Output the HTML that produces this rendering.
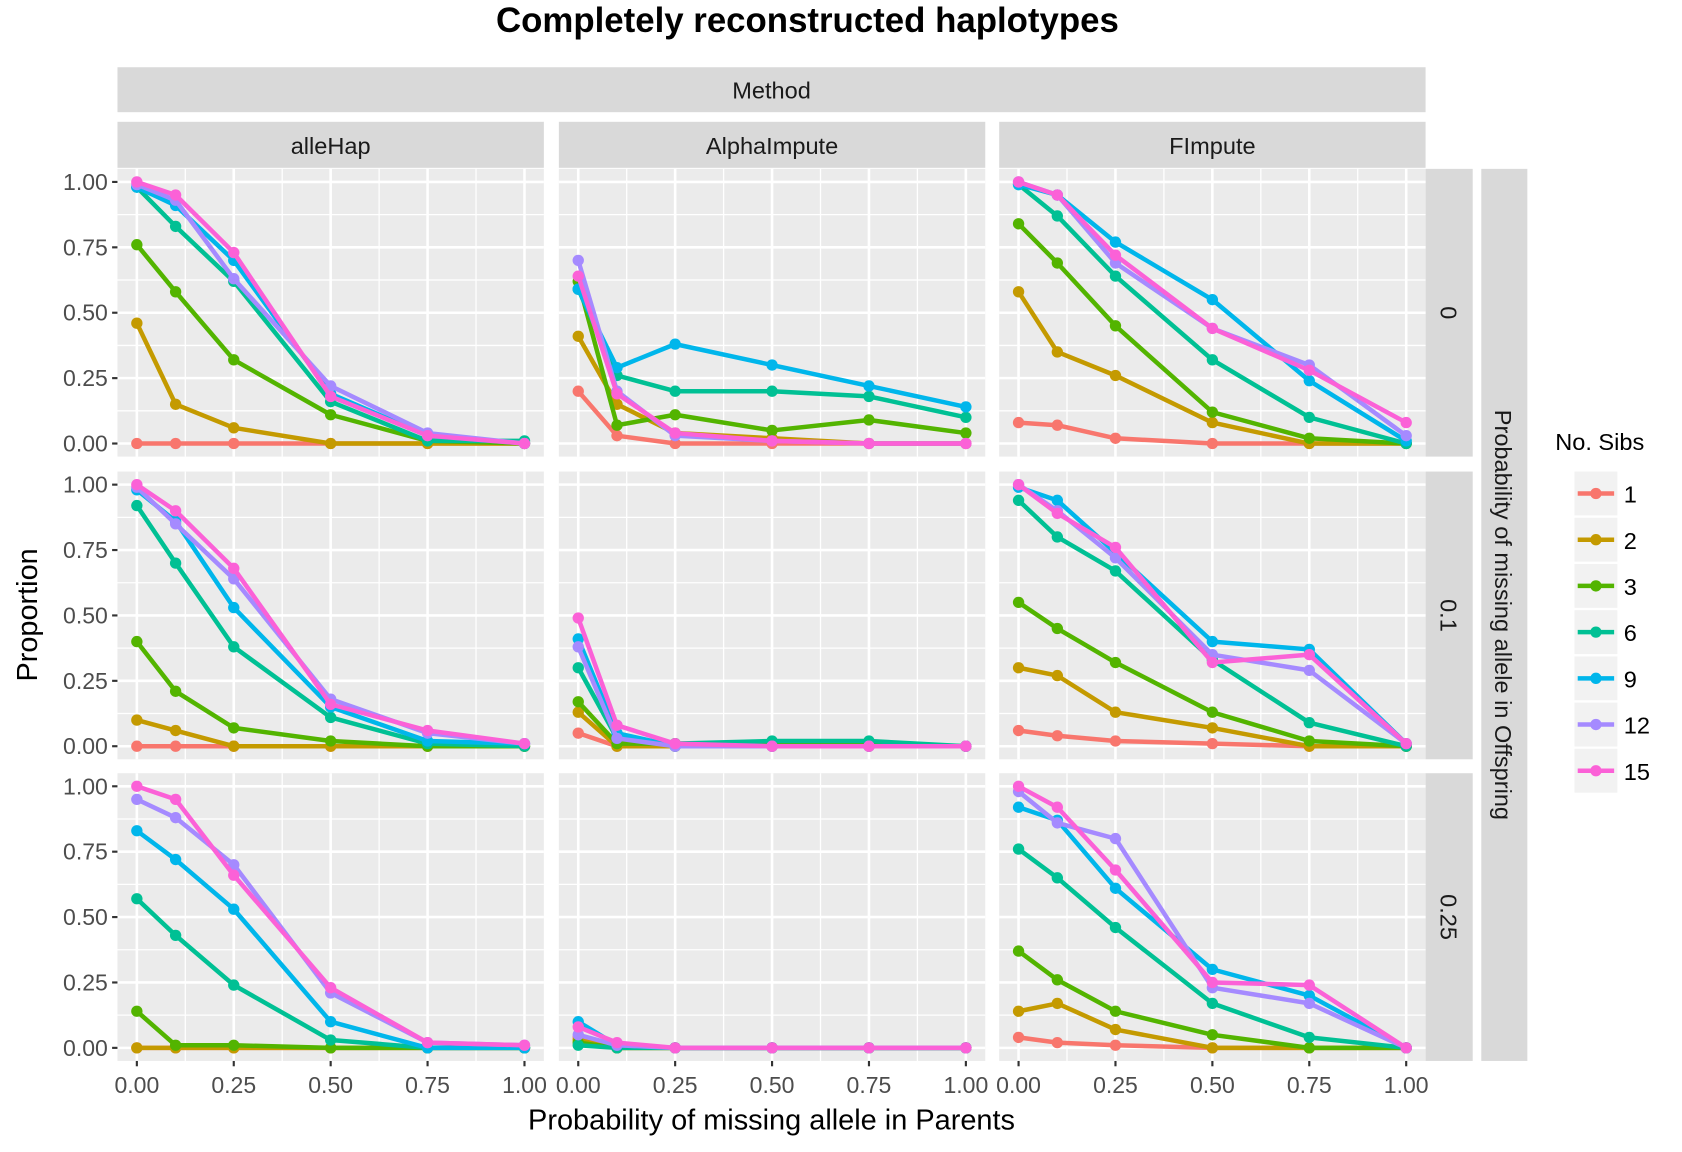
<!DOCTYPE html>
<html><head><meta charset="utf-8">
<style>
html,body{margin:0;padding:0;background:#fff;}
svg{display:block;font-family:"Liberation Sans",sans-serif;}
</style></head>
<body>
<svg id="chart" width="1682" height="1152" viewBox="-0.65 -1.87 1570 1077" preserveAspectRatio="none" xmlns="http://www.w3.org/2000/svg"></svg>
<script>
const xVals = [0, 0.1, 0.25, 0.5, 0.75, 1.0];
const sibs = ["1","2","3","6","9","12","15"];
const colors = ["#F8766D","#C49A00","#53B400","#00C094","#00B6EB","#A58AFF","#FB61D7"];
const methods = ["alleHap","AlphaImpute","FImpute"];
const offspring = ["0","0.1","0.25"];
const tickVals = [0, 0.25, 0.5, 0.75, 1.0];
const tickLabels = ["0.00","0.25","0.50","0.75","1.00"];

const alleHap_0 = [
 [0,0,0,0,0,0],[0.46,0.15,0.06,0,0,0],[0.76,0.58,0.32,0.11,0.01,0],
 [0.98,0.83,0.62,0.16,0.01,0.01],[0.98,0.91,0.70,0.19,0.03,0],
 [0.99,0.93,0.63,0.22,0.04,0],[1,0.95,0.73,0.18,0.03,0]];
const alphaImpute_0 = [
 [0.20,0.03,0,0,0,0],[0.41,0.15,0.04,0.02,0,0],[0.62,0.07,0.11,0.05,0.09,0.04],
 [0.59,0.26,0.20,0.20,0.18,0.10],[0.59,0.29,0.38,0.30,0.22,0.14],
 [0.70,0.20,0.03,0.01,0,0],[0.64,0.19,0.04,0.01,0,0]];
const fImpute_0 = [
 [0.08,0.07,0.02,0,0,0],[0.58,0.35,0.26,0.08,0,0],[0.84,0.69,0.45,0.12,0.02,0],
 [0.99,0.87,0.64,0.32,0.10,0],[0.99,0.95,0.77,0.55,0.24,0.01],
 [1,0.95,0.69,0.44,0.30,0.03],[1,0.95,0.72,0.44,0.28,0.08]];
const alleHap_01 = [
 [0,0,0,0,0,0],[0.10,0.06,0,0,0,0],[0.40,0.21,0.07,0.02,0,0],
 [0.92,0.70,0.38,0.11,0.01,0],[0.98,0.86,0.53,0.15,0.02,0.01],
 [0.99,0.85,0.64,0.18,0.05,0.01],[1,0.90,0.68,0.16,0.06,0.01]];
const alphaImpute_01 = [
 [0.05,0,0,0,0,0],[0.13,0,0,0,0,0],[0.17,0.01,0.01,0.01,0.01,0],
 [0.30,0.03,0.01,0.02,0.02,0],[0.41,0.05,0,0,0,0],
 [0.38,0.03,0,0,0,0],[0.49,0.08,0.01,0,0,0]];
const fImpute_01 = [
 [0.06,0.04,0.02,0.01,0,0],[0.30,0.27,0.13,0.07,0,0],[0.55,0.45,0.32,0.13,0.02,0],
 [0.94,0.80,0.67,0.33,0.09,0],[0.99,0.94,0.74,0.40,0.37,0.01],
 [1,0.90,0.72,0.35,0.29,0.01],[1,0.89,0.76,0.32,0.35,0.01]];
const alleHap_025 = [
 [0,0,0,0,0,0],[0,0,0,0,0,0],[0.14,0.01,0.01,0,0,0],
 [0.57,0.43,0.24,0.03,0,0],[0.83,0.72,0.53,0.10,0,0],
 [0.95,0.88,0.70,0.21,0.02,0.01],[1,0.95,0.66,0.23,0.02,0.01]];
const alphaImpute_025 = [
 [0.04,0,0,0,0,0],[0.03,0,0,0,0,0],[0.02,0,0,0,0,0],
 [0.01,0,0,0,0,0],[0.10,0.01,0,0,0,0],
 [0.05,0.01,0,0,0,0],[0.08,0.02,0,0,0,0]];
const fImpute_025 = [
 [0.04,0.02,0.01,0,0,0],[0.14,0.17,0.07,0,0,0],[0.37,0.26,0.14,0.05,0,0],
 [0.76,0.65,0.46,0.17,0.04,0],[0.92,0.87,0.61,0.30,0.20,0],
 [0.98,0.86,0.80,0.23,0.17,0],[1,0.92,0.68,0.25,0.24,0]];

const panels = [
 [alleHap_0, alphaImpute_0, fImpute_0],
 [alleHap_01, alphaImpute_01, fImpute_01],
 [alleHap_025, alphaImpute_025, fImpute_025]];

const NS = "http://www.w3.org/2000/svg";
const svg = document.getElementById("chart");
function mk(tag, attrs, parent, text){
  const e = document.createElementNS(NS, tag);
  for (const k in attrs) e.setAttribute(k, attrs[k]);
  if (text !== undefined) e.textContent = text;
  (parent || svg).appendChild(e);
  return e;
}
const colX = [109, 521, 932], colW = 398;
const rowY = [156, 439, 721], rowH = 269;
function sx(c, v){ return colX[c] + colW*(0.05 + v)/1.1; }
function sy(r, v){ return rowY[r] + rowH*(1.05 - v)/1.1; }

let t = mk("text",{x:753,y:28,"text-anchor":"middle","font-size":32.5,"font-weight":"bold",fill:"#000"},svg,"Completely reconstructed haplotypes");
 

let r0 = mk("rect",{x:109,y:61,width:1221,height:42,fill:"#D9D9D9"});
 
mk("text",{x:719.5,y:90,"text-anchor":"middle","font-size":22,fill:"#1A1A1A"},svg,"Method");

for (let c=0;c<3;c++){
  const s = mk("rect",{x:colX[c],y:112,width:colW,height:43,fill:"#D9D9D9"});
   
  mk("text",{x:colX[c]+colW/2,y:142,"text-anchor":"middle","font-size":22,fill:"#1A1A1A"},svg,methods[c]);
}
for (let r=0;r<3;r++){
  const s = mk("rect",{x:1330,y:rowY[r],width:44,height:rowH,fill:"#D9D9D9"});
   
  mk("text",{x:0,y:0,"text-anchor":"middle","font-size":22,fill:"#1A1A1A",transform:`translate(1344,${rowY[r]+rowH/2}) rotate(90)`},svg,offspring[r]);
}
const os = mk("rect",{x:1382,y:156,width:43,height:834,fill:"#D9D9D9"});
 
mk("text",{x:0,y:0,"text-anchor":"middle","font-size":22,fill:"#1A1A1A",transform:`translate(1395,573) rotate(90)`},svg,"Probability of missing allele in Offspring");

for (let r=0;r<3;r++) for (let c=0;c<3;c++){
  const g = mk("g",{});
  
  
  mk("rect",{x:colX[c],y:rowY[r],width:colW,height:rowH,fill:"#EBEBEB"},g);
  for (let i=0;i<4;i++){
    const mv = 0.125+0.25*i;
    mk("line",{x1:colX[c],x2:colX[c]+colW,y1:sy(r,mv),y2:sy(r,mv),stroke:"#fff","stroke-width":1.2},g);
    mk("line",{y1:rowY[r],y2:rowY[r]+rowH,x1:sx(c,mv),x2:sx(c,mv),stroke:"#fff","stroke-width":1.2},g);
  }
  tickVals.forEach(v=>{
    mk("line",{x1:colX[c],x2:colX[c]+colW,y1:sy(r,v),y2:sy(r,v),stroke:"#fff","stroke-width":2.4},g);
    mk("line",{y1:rowY[r],y2:rowY[r]+rowH,x1:sx(c,v),x2:sx(c,v),stroke:"#fff","stroke-width":2.4},g);
  });
  const data = panels[r][c];
  data.forEach((ser, si)=>{
    const pts = ser.map((v,i)=>sx(c,xVals[i]).toFixed(2)+","+sy(r,v).toFixed(2)).join(" ");
    const pl = mk("polyline",{points:pts,fill:"none",stroke:colors[si],"stroke-width":4.2,"stroke-linejoin":"round"},g);
    
    
    ser.forEach((v,i)=>{
      const p = mk("circle",{cx:sx(c,xVals[i]),cy:sy(r,v),r:5.3,fill:colors[si]},g);
      
      
    });
  });
}
// y axes
for (let r=0;r<3;r++){
  const g = mk("g",{});
   
  tickVals.forEach((v,i)=>{
    mk("line",{x1:104,x2:109,y1:sy(r,v),y2:sy(r,v),stroke:"#333","stroke-width":2},g);
    mk("text",{x:100,y:sy(r,v)+7.5,"text-anchor":"end","font-size":21.5,fill:"#4D4D4D"},g,tickLabels[i]);
  });
}
// x axes
for (let c=0;c<3;c++){
  const g = mk("g",{});
   
  tickVals.forEach((v,i)=>{
    mk("line",{x1:sx(c,v),x2:sx(c,v),y1:990,y2:995,stroke:"#333","stroke-width":2},g);
    mk("text",{x:sx(c,v),y:1020,"text-anchor":"middle","font-size":21.5,fill:"#4D4D4D"},g,tickLabels[i]);
  });
}
t = mk("text",{x:719.5,y:1054,"text-anchor":"middle","font-size":27,fill:"#000"},svg,"Probability of missing allele in Parents");
 
t = mk("text",{x:0,y:0,"text-anchor":"middle","font-size":27,fill:"#000",transform:"translate(34,573) rotate(-90)"},svg,"Proportion");
 

// legend
const lg = mk("g",{});
 
mk("text",{x:1451,y:419,"font-size":22,fill:"#000"},lg,"No. Sibs");
sibs.forEach((s,i)=>{
  const y0 = 439 + i*43.2;
  const e = mk("g",{},lg);
   
  mk("rect",{x:1469,y:y0,width:40,height:41,fill:"#F2F2F2"},e);
  mk("line",{x1:1472,x2:1506,y1:y0+20.5,y2:y0+20.5,stroke:colors[i],"stroke-width":4.2},e);
  mk("circle",{cx:1489,cy:y0+20.5,r:5.3,fill:colors[i]},e);
  mk("text",{x:1515,y:y0+29,"font-size":22,fill:"#000"},e,s);
});
</script>
</body></html>
